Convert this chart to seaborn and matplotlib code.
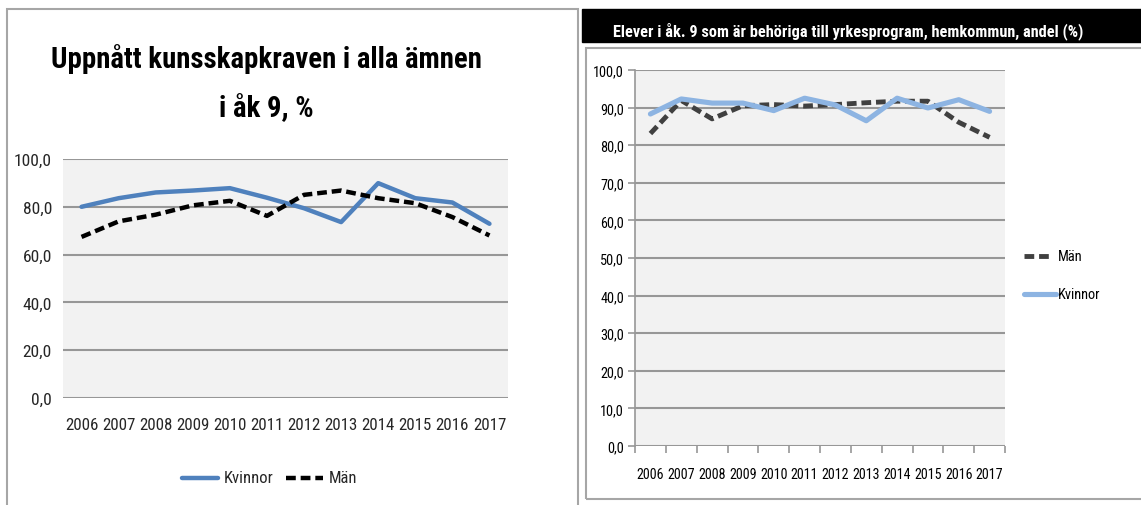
import numpy as np
import pandas as pd
import seaborn as sns
import matplotlib.pyplot as plt
from matplotlib import font_manager
from matplotlib.lines import Line2D
from matplotlib.patches import Rectangle

years = list(range(2006, 2018))

# left chart: uppnått kunskapskraven
kv_left = [80.0, 83.6, 86.0, 86.8, 87.8, 83.8, 79.4, 73.6, 89.9, 83.6, 81.8, 72.9]
man_left = [67.4, 73.9, 76.7, 80.6, 82.5, 76.2, 85.0, 86.8, 83.6, 81.5, 75.7, 68.0]

# right chart: behöriga till yrkesprogram
kv_right = [88.3, 92.3, 91.2, 91.2, 89.2, 92.5, 90.7, 86.5, 92.5, 89.9, 92.1, 89.0]
man_right = [83.1, 91.9, 87.0, 90.5, 90.8, 90.4, 90.8, 91.3, 91.7, 91.7, 86.1, 82.1]

left_ticks = [0, 20, 40, 60, 80, 100]
right_ticks = list(range(0, 101, 10))

sns.set_theme(style="white")

# pick a narrow font if there is one
ttf = font_manager.fontManager.ttflist
avail = {f.name for f in ttf}
stretch = 'normal'
fam = None
for c in ['Liberation Sans Narrow', 'Roboto Condensed', 'Open Sans Condensed', 'Noto Sans Condensed',
          'DejaVu Sans Condensed', 'Arial Narrow']:
    if c in avail:
        fam = c
        break
if fam is None:
    cond = [f for f in ttf if str(f.stretch) in ('condensed', 'semi-condensed', 'extra-condensed')
            and f.name in ('DejaVu Sans', 'Noto Sans', 'Roboto', 'Open Sans', 'Liberation Sans')]
    if cond:
        fam = cond[0].name
        stretch = str(cond[0].stretch)
    else:
        fam = 'Liberation Sans'
plt.rcParams['font.family'] = [fam, 'DejaVu Sans']
plt.rcParams['font.stretch'] = stretch

W, H = 1141, 506
fig = plt.figure(figsize=(W / 100, H / 100), dpi=100)
renderer = fig.canvas.get_renderer()
K = 1.15  # the reference glyphs are taller than the condensed font at the same width


def size_for(text, width, weight='normal'):
    # font size so that the text is about `width` pixels wide
    t = fig.text(0, 0, text, fontsize=20, fontweight=weight)
    w = t.get_window_extent(renderer).width
    t.remove()
    return 20 * width / w


def box(x0, y0, x1, y1):
    return [x0 / W, 1 - y1 / H, (x1 - x0) / W, (y1 - y0) / H]


def fx(x):
    return x / W


def fy(y):
    return 1 - y / H


def fmt(v):
    return f"{v:.1f}".replace(".", ",")


# panel borders and title bar
fig.patches.append(Rectangle((fx(7), -0.01), fx(571), fy(10) + 0.01, transform=fig.transFigure,
                             fill=False, edgecolor='#A6A6A6', lw=1.5))
fig.patches.append(Rectangle((fx(582), fy(43)), 1 - fx(582), 33 / H, transform=fig.transFigure,
                             facecolor='black', edgecolor='black'))
fig.patches.append(Rectangle((fx(586), fy(500)), 1 - fx(586) + 0.01, 451 / H, transform=fig.transFigure,
                             fill=False, edgecolor='#A6A6A6', lw=1.5))

grid_c = '#979797'
bg = '#F2F2F2'

# ---- left chart
fs_lt = size_for("2006", 29) * K
fs_ly = size_for("100,0", 33) * K
ax1 = fig.add_axes(box(63, 160, 508, 399))
ax1.set_facecolor(bg)
sns.lineplot(x=years, y=kv_left, ax=ax1, color='#4F81BD', lw=3.2)
sns.lineplot(x=years, y=man_left, ax=ax1, color='black', lw=3.2)
ax1.lines[-1].set_dashes((2.2, 1.1))
ax1.set_xlim(2005.5, 2017.5)
ax1.set_ylim(0, 100)
ax1.set_yticks(left_ticks)
ax1.set_yticklabels([fmt(v) for v in left_ticks], fontsize=fs_ly)
ax1.set_xticks(years)
ax1.set_xticklabels([str(y) for y in years], fontsize=fs_lt)
ax1.tick_params(axis='x', pad=14, length=0, colors='#262626')
ax1.tick_params(axis='y', pad=8, length=0, colors='#262626')
ax1.grid(axis='y', color=grid_c, lw=1.5)
ax1.set_axisbelow(True)
for s in ax1.spines.values():
    s.set_visible(False)

fs_title = size_for("Uppnått kunsskapkraven i alla ämnen", 401, 'bold') * 1.07
fig.text(fx(266), fy(68), "Uppnått kunsskapkraven i alla ämnen", ha='center', va='baseline',
         fontsize=fs_title, fontweight='bold', color='black')
fig.text(fx(266), fy(117), "i åk 9, %", ha='center', va='baseline', fontsize=fs_title,
         fontweight='bold', color='black')

fs_leg1 = size_for("Kvinnor", 43) * K
fig.lines.append(Line2D([fx(182), fx(218)], [fy(479)] * 2, transform=fig.transFigure,
                        color='#4F81BD', lw=3.2))
fig.text(fx(224), fy(479), "Kvinnor", va='center', ha='left', fontsize=fs_leg1, color='#262626')
fig.lines.append(Line2D([fx(286), fx(323)], [fy(479)] * 2, transform=fig.transFigure,
                        color='black', lw=3.2, dashes=(2.2, 1.1)))
fig.text(fx(329), fy(479), "Män", va='center', ha='left', fontsize=fs_leg1, color='#262626')

# ---- right chart
fs_rt = size_for("2006", 24) * K
fs_ry = size_for("100,0", 27) * K
ax2 = fig.add_axes(box(635, 71, 1005, 447))
ax2.set_facecolor(bg)
sns.lineplot(x=years, y=man_right, ax=ax2, color='#404040', lw=3.5)
ax2.lines[-1].set_dashes((2.0, 1.0))
sns.lineplot(x=years, y=kv_right, ax=ax2, color='#8DB4E2', lw=3.7)
ax2.set_xlim(2005.5, 2017.5)
ax2.set_ylim(0, 100)
ax2.set_yticks(right_ticks)
ax2.set_yticklabels([fmt(v) for v in right_ticks], fontsize=fs_ry)
ax2.set_xticks(years)
ax2.set_xticklabels([str(y) for y in years], fontsize=fs_rt)
ax2.set_xticks(np.arange(2005.5, 2018, 1), minor=True)
ax2.tick_params(axis='x', which='major', length=0, pad=15, colors='black')
ax2.tick_params(axis='x', which='minor', length=5, color=grid_c, width=1.2, direction='out', bottom=True)
ax2.tick_params(axis='y', length=5, color=grid_c, width=1.2, direction='out', left=True, pad=3,
                labelcolor='black')
ax2.grid(axis='y', color=grid_c, lw=1.5)
ax2.set_axisbelow(True)
for k in ['top', 'right', 'bottom']:
    ax2.spines[k].set_visible(False)
ax2.spines['left'].set_color(grid_c)
ax2.spines['left'].set_linewidth(1.2)

rtitle = "Elever i åk. 9 som är behöriga till yrkesprogram, hemkommun, andel (%)"
fig.text(fx(848), fy(36), rtitle, ha='center', va='baseline', color='white',
         fontsize=size_for(rtitle, 442, 'bold') * 1.06, fontweight='bold')

fs_leg2 = size_for("Kvinnor", 37) * K
fig.lines.append(Line2D([fx(1024), fx(1053)], [fy(257)] * 2, transform=fig.transFigure,
                        color='#404040', lw=3.5, dashes=(2.0, 1.0)))
fig.text(fx(1058), fy(257), "Män", va='center', ha='left', fontsize=fs_leg2, color='black')
fig.lines.append(Line2D([fx(1024), fx(1056)], [fy(295)] * 2, transform=fig.transFigure,
                        color='#8DB4E2', lw=3.7))
fig.text(fx(1058), fy(295), "Kvinnor", va='center', ha='left', fontsize=fs_leg2, color='black')

fig.savefig('out.png', dpi=100)
